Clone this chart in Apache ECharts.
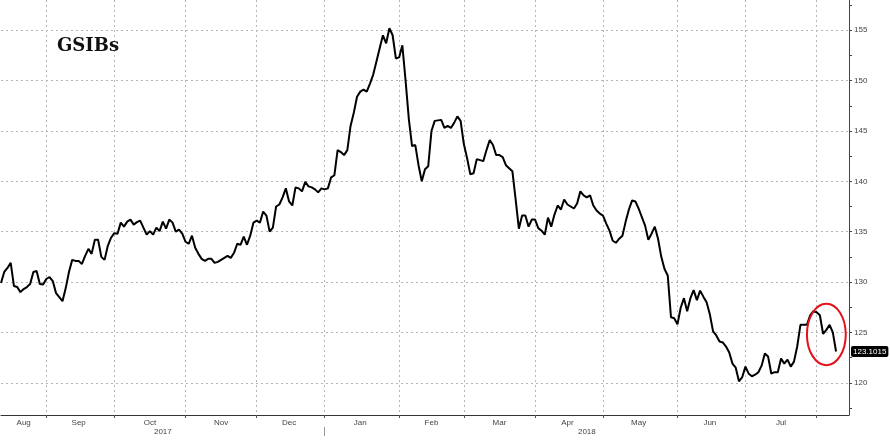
<!DOCTYPE html>
<html>
<head>
<meta charset="utf-8">
<script src="https://cdn.jsdelivr.net/npm/echarts@6/dist/echarts.min.js"></script>
<style>
html,body{margin:0;padding:0;background:#fff;}
#chart{width:890px;height:440px;}
</style>
</head>
<body>
<div id="chart"></div>
<script>
// ---- data ----
const startDate = '2017-08-14';
const endDate = '2018-08-15';
const titleText = 'GSIBs';
const monthLabels = ['Aug','Sep','Oct','Nov','Dec','Jan','Feb','Mar','Apr','May','Jun','Jul'];
const yearLabels = ['2017','2018'];
const yTickLabels = [120,125,130,135,140,145,150,155];
const yTickMarks = [117.5,120,122.5,125,127.5,130,132.5,135,137.5,140,142.5,145,147.5,150,152.5,155,157.5];
const yMin = 116.8;
const yMax = 158;
const gsibValues = [
  129.9,131.0,131.4,131.9,129.6,129.5,129.0,129.3,129.5,129.8,
  131.0,131.1,129.8,129.75,130.3,130.5,130.1,128.9,128.5,128.1,
  129.4,131.0,132.2,132.1,132.1,131.8,132.6,133.3,132.8,134.2,
  134.2,132.5,132.2,133.6,134.4,134.85,134.8,135.9,135.5,136.0,
  136.2,135.7,135.95,136.1,135.4,134.7,135.05,134.7,135.4,135.05,
  136.0,135.3,136.2,135.9,135.0,135.2,134.8,134.0,133.8,134.6,
  133.4,132.8,132.3,132.1,132.3,132.3,131.9,132.0,132.2,132.4,
  132.6,132.4,132.9,133.8,133.7,134.5,133.7,134.6,135.9,136.1,
  135.9,137.0,136.6,135.0,135.4,137.5,137.7,138.4,139.3,138.0,
  137.6,139.4,139.3,139.0,139.95,139.5,139.4,139.2,138.9,139.3,
  139.2,139.3,140.4,140.6,143.1,142.9,142.6,143.1,145.5,146.8,
  148.4,148.9,149.1,148.9,149.7,150.6,151.9,153.2,154.5,153.7,
  155.2,154.5,152.2,152.3,153.5,150.0,146.2,143.5,143.6,141.6,
  140.0,141.2,141.5,145.0,146.0,146.05,146.1,145.3,145.5,145.3,
  145.8,146.45,146.0,143.7,142.3,140.7,140.8,142.2,142.1,142.0,
  143.1,144.1,143.6,142.6,142.6,142.4,141.6,141.3,141.0,138.2,
  135.3,136.6,136.6,135.5,136.2,136.2,135.35,135.1,134.7,136.4,
  135.5,136.7,137.6,137.2,138.2,137.7,137.5,137.3,137.8,139.0,
  138.6,138.4,138.6,137.6,137.1,136.8,136.6,135.8,135.1,134.1,
  133.9,134.3,134.6,136.0,137.2,138.1,138.0,137.3,136.45,135.6,
  134.2,134.8,135.5,134.3,132.5,131.3,130.65,126.5,126.4,125.8,
  127.45,128.4,127.1,128.4,129.2,128.2,129.15,128.55,128.0,126.8,
  125.1,124.7,124.1,124.0,123.6,123.0,121.9,121.5,120.15,120.55,
  121.6,120.9,120.65,120.8,121.05,121.7,122.9,122.6,120.9,121.05,
  121.05,122.4,121.9,122.3,121.6,122.1,123.6,125.75,125.75,125.75,
  126.7,127.1,127.0,126.7,124.85,125.25,125.75,125.0,123.1015
];
const lastValue = gsibValues[gsibValues.length - 1];
// annotation (red ellipse) in data units
const ellipseCenterIndex = 255;
const ellipseCenterValue = 124.8;
const ellipseHalfWidthDays = 6;
const ellipseHalfHeightValue = 3.05;

// ---- build weekday categories ----
const categories = [];
for (let t = Date.parse(startDate + 'T00:00:00Z'); t <= Date.parse(endDate + 'T00:00:00Z'); t += 86400000) {
  const d = new Date(t);
  const wd = d.getUTCDay();
  if (wd !== 0 && wd !== 6) categories.push(d.toISOString().slice(0, 10));
}
const monthStarts = [0];
const yearStarts = [0];
for (let i = 1; i < categories.length; i++) {
  if (categories[i].slice(5, 7) !== categories[i - 1].slice(5, 7)) monthStarts.push(i);
  if (categories[i].slice(0, 4) !== categories[i - 1].slice(0, 4)) yearStarts.push(i);
}
yearStarts.push(categories.length - 1);
const monthLabelAt = {};
monthLabels.forEach((m, k) => {
  monthLabelAt[Math.floor((monthStarts[k] + monthStarts[k + 1]) / 2)] = m;
});
const yearLabelAt = {};
yearLabels.forEach((y, k) => {
  yearLabelAt[Math.floor((yearStarts[k] + yearStarts[k + 1]) / 2)] = y;
});
const gridLineAt = new Set(monthStarts.slice(1));
const yearSepAt = new Set(yearStarts.slice(1, -1));

const dotted = { type: [2, 3], color: '#b5b5b5', width: 1 };
const labelFont = 'Liberation Sans';

const chart = echarts.init(document.getElementById('chart'), null, { renderer: 'canvas' });
chart.setOption({
  animation: false,
  backgroundColor: '#ffffff',
  title: {
    text: titleText,
    left: 57,
    top: 37,
    padding: 0,
    textStyle: { fontFamily: 'DejaVu Serif', fontWeight: 'bold', fontSize: 18, color: '#111' }
  },
  grid: { left: 1, right: 41, top: 0, bottom: 25, containLabel: false, outerBoundsMode: 'none' },
  xAxis: [
    {
      type: 'category',
      data: categories,
      boundaryGap: false,
      position: 'bottom',
      axisLine: { show: true, lineStyle: { color: '#333', width: 1 } },
      axisTick: { show: true, interval: (i) => gridLineAt.has(i), length: 3, lineStyle: { color: '#555' } },
      axisLabel: {
        interval: (i) => monthLabelAt[i] !== undefined,
        formatter: (v, i) => monthLabelAt[i] || '',
        fontSize: 8, color: '#444', margin: 4, fontFamily: labelFont
      },
      splitLine: { show: true, interval: (i) => gridLineAt.has(i), lineStyle: dotted }
    },
    {
      type: 'category',
      data: categories,
      boundaryGap: false,
      position: 'bottom',
      offset: 12,
      axisLine: { show: false },
      axisTick: { show: true, interval: (i) => yearSepAt.has(i), length: 9, lineStyle: { color: '#999' } },
      axisLabel: {
        interval: (i) => yearLabelAt[i] !== undefined,
        formatter: (v, i) => yearLabelAt[i] || '',
        fontSize: 8, color: '#444', margin: 1, fontFamily: labelFont
      },
      splitLine: { show: false }
    }
  ],
  yAxis: [
    {
      type: 'value',
      position: 'right',
      min: yMin,
      max: yMax,
      splitNumber: 8,
      minInterval: 5,
      maxInterval: 5,
      axisLine: { show: true, lineStyle: { color: '#444', width: 1 } },
      axisTick: { show: true, length: 3, customValues: yTickMarks, lineStyle: { color: '#444' } },
      axisLabel: {
        customValues: yTickLabels,
        fontSize: 8, color: '#444', margin: 5, fontFamily: labelFont
      },
      splitLine: { show: false }
    },
    {
      type: 'value',
      position: 'right',
      min: yMin,
      max: yMax,
      splitNumber: 8,
      minInterval: 5,
      maxInterval: 5,
      axisLine: { show: false },
      axisTick: { show: false },
      axisLabel: { show: false },
      splitLine: { show: true, showMinLine: false, showMaxLine: false, lineStyle: dotted }
    }
  ],
  series: [
    {
      type: 'line',
      data: gsibValues,
      xAxisIndex: 0,
      yAxisIndex: 0,
      showSymbol: false,
      symbol: 'none',
      lineStyle: { color: '#000', width: 2 },
      itemStyle: { color: '#000' },
      z: 5,
      markLine: {
        silent: true,
        symbol: 'none',
        animation: false,
        precision: 4,
        lineStyle: { color: 'rgba(0,0,0,0)', width: 0, type: 'solid' },
        data: [{ yAxis: lastValue }],
        label: {
          show: true,
          position: 'end',
          distance: 2,
          formatter: () => String(lastValue),
          backgroundColor: '#000',
          color: '#fff',
          fontSize: 8,
          fontFamily: labelFont,
          padding: [2, 2, 1, 2],
          borderRadius: 2
        }
      }
    }
  ]
});

const c = chart.convertToPixel({ xAxisIndex: 0, yAxisIndex: 0 }, [ellipseCenterIndex, ellipseCenterValue]);
const cTop = chart.convertToPixel({ xAxisIndex: 0, yAxisIndex: 0 }, [ellipseCenterIndex + ellipseHalfWidthDays, ellipseCenterValue + ellipseHalfHeightValue]);
chart.setOption({
  graphic: [{
    type: 'ellipse',
    silent: true,
    z: 100,
    shape: { cx: c[0], cy: c[1], rx: Math.abs(cTop[0] - c[0]), ry: Math.abs(c[1] - cTop[1]) },
    style: { fill: 'none', stroke: '#e3121b', lineWidth: 2 }
  }]
});
</script>
</body>
</html>
